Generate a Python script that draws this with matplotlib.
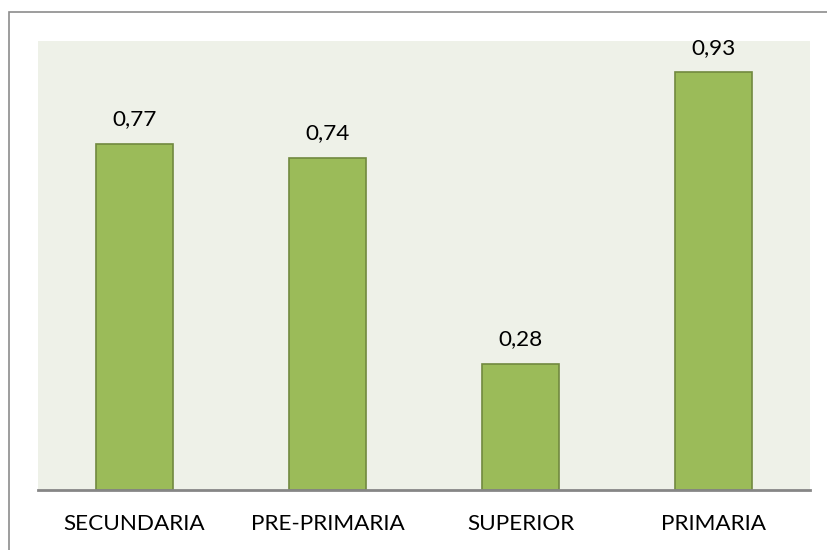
import matplotlib
matplotlib.use("Agg")
import matplotlib.pyplot as plt
from matplotlib.patches import Rectangle

# datos
categorias = ["SECUNDARIA", "PRE-PRIMARIA", "SUPERIOR", "PRIMARIA"]
valores = [0.77, 0.74, 0.28, 0.93]
etiquetas = ["0,77", "0,74", "0,28", "0,93"]

plt.rcParams['font.family'] = ['Lato', 'DejaVu Sans']

fig = plt.figure(figsize=(8.28, 5.5), dpi=100)
fig.patch.set_facecolor("white")

# marco exterior del grafico (solo se ve arriba e izquierda)
fig.add_artist(Rectangle((9 / 828, -0.2), 1.2, (550 - 12) / 550 + 0.2,
                         transform=fig.transFigure, fill=False,
                         edgecolor="#8c8c8c", linewidth=1.2))

ax = fig.add_axes([38 / 828, 60 / 550, 772 / 828, 449 / 550])
ax.set_facecolor("#eef1e8")

x = range(len(categorias))
ax.bar(x, valores, width=0.40, color="#9bbb59", edgecolor="#71893f", linewidth=1.2)

for xi, v, t in zip(x, valores, etiquetas):
    ax.text(xi, v + 0.033, t, ha="center", va="bottom", fontsize=16.2, color="black")

ax.set_xlim(-0.5, len(categorias) - 0.5)
ax.set_ylim(0, 1.0)
ax.set_xticks(list(x))
ax.set_xticklabels(categorias, fontsize=16.2)
ax.tick_params(axis="x", length=0, pad=17)
ax.set_yticks([])

for s in ["top", "right", "left"]:
    ax.spines[s].set_visible(False)
ax.spines["bottom"].set_color("#868686")
ax.spines["bottom"].set_linewidth(2)

fig.savefig("out.png", dpi=100)
